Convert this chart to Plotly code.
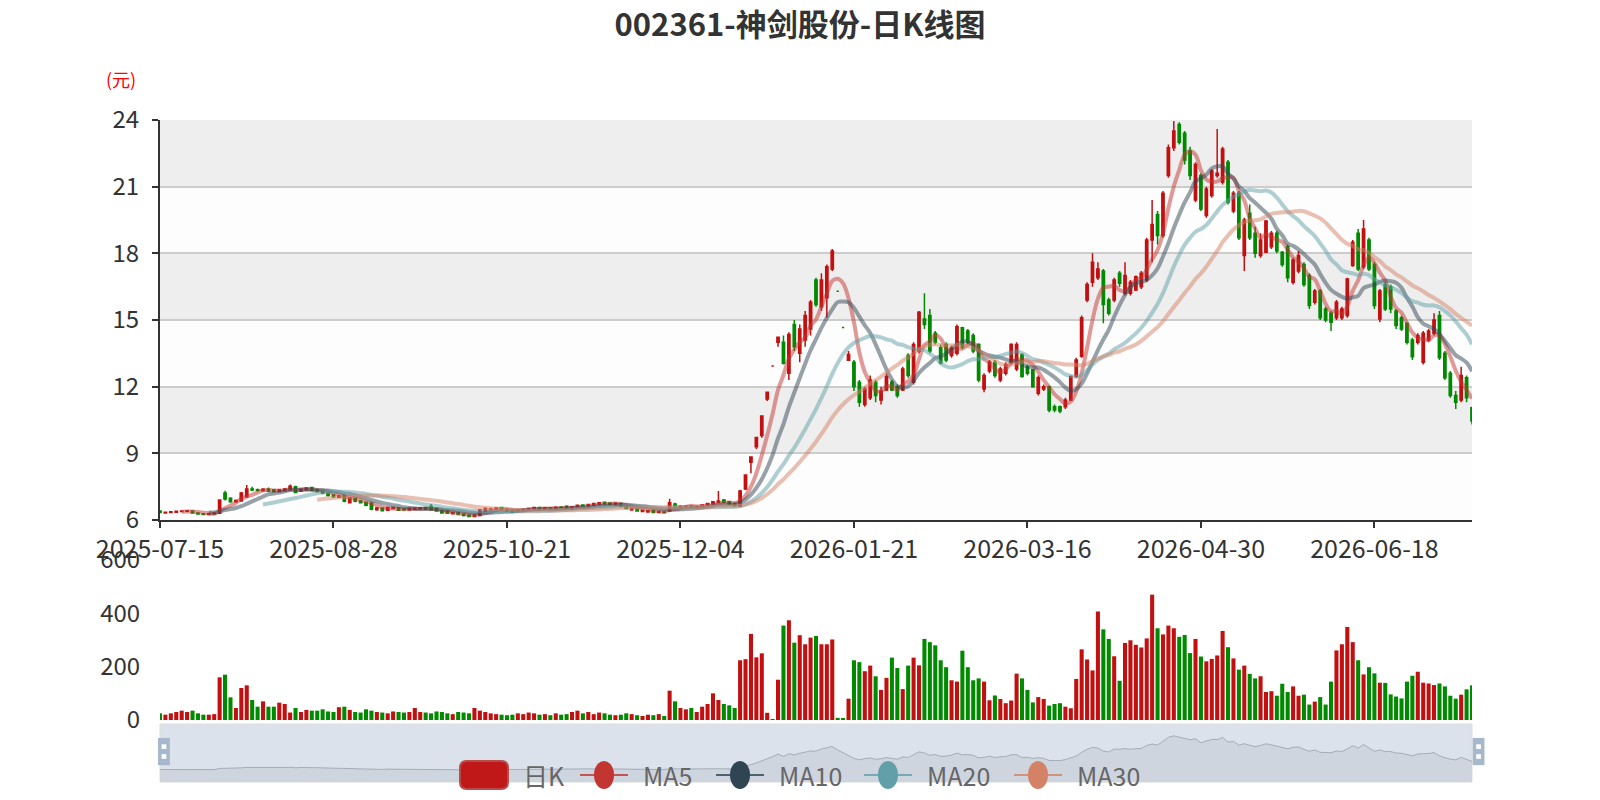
import pandas as pd
import plotly.graph_objects as go

# trading calendar (SZSE), starting 2025-07-15
holidays = ["2025-10-01", "2025-10-02", "2025-10-03", "2025-10-06", "2025-10-07", "2025-10-08",
            "2026-01-01", "2026-01-02", "2026-02-16", "2026-02-17", "2026-02-18", "2026-02-19",
            "2026-02-20", "2026-02-23", "2026-04-06", "2026-05-01", "2026-05-04", "2026-05-05",
            "2026-06-19"]
days = pd.bdate_range("2025-07-15", "2026-07-31")
days = [d.strftime("%Y-%m-%d") for d in days if d.strftime("%Y-%m-%d") not in holidays]

open_ = [
    6.40, 6.32, 6.34, 6.35, 6.38, 6.39, 6.41, 6.32, 6.28, 6.25, 6.27, 6.30, 7.22, 6.98, 6.82, 6.86,
    7.05, 7.40, 7.36, 7.32, 7.38, 7.36, 7.28, 7.32, 7.36, 7.50, 7.30, 7.36, 7.46, 7.36, 7.30, 7.20,
    7.12, 7.02, 7.10, 6.78, 6.98, 6.86, 6.80, 6.76, 6.46, 6.54, 6.44, 6.52, 6.54, 6.50, 6.45, 6.47,
    6.49, 6.56, 6.62, 6.52, 6.42, 6.40, 6.28, 6.33, 6.27, 6.23, 6.16, 6.20, 6.38, 6.46,
    6.48, 6.56, 6.48, 6.44, 6.38, 6.42, 6.46, 6.49, 6.56, 6.48, 6.55, 6.50, 6.58, 6.62, 6.50, 6.58,
    6.68, 6.62, 6.66, 6.70, 6.80, 6.76, 6.68, 6.74, 6.62, 6.45, 6.50, 6.38, 6.36, 6.42, 6.34, 6.36,
    6.40, 6.72, 6.56, 6.60, 6.64, 6.56, 6.60, 6.66, 6.72, 6.80, 6.90, 6.82, 6.72,
    6.62, 7.40, 8.60, 9.30, 9.80, 11.45, 12.93, 14.00, 14.00, 12.60, 14.80, 13.50, 14.10, 14.60,
    16.80, 15.60, 16.00, 17.30, 16.29, 14.66, 13.19,
    13.10, 12.20, 11.20, 11.50, 12.20, 11.40, 11.85, 12.20, 12.00, 11.85, 13.40, 12.20, 13.60, 15.05,
    15.20, 14.40, 13.75, 13.90, 13.40, 13.50, 14.65, 14.50, 14.30, 13.90, 11.90, 12.70, 13.10, 12.30,
    12.60, 13.10, 12.80, 13.45, 12.90, 12.76, 11.70, 11.90, 12.00, 11.10, 11.10, 11.10, 11.40, 12.46,
    13.37, 15.90,
    16.70, 16.90, 17.20, 15.90, 15.90, 17.10, 16.20, 16.20, 16.35, 16.50, 16.80, 18.60, 19.75, 18.80,
    21.50, 22.75, 23.80, 23.40, 22.60, 20.40, 21.50, 19.70, 20.60, 21.50, 21.20, 22.10, 19.90, 20.70,
    17.90, 19.80, 18.90, 17.90,
    18.05, 18.30, 18.90, 18.05, 18.30, 16.70, 17.20, 17.50, 17.00, 15.80, 16.30, 15.50, 15.30, 15.10,
    15.10, 15.20, 17.45, 18.90, 17.40, 18.60, 17.50, 15.05, 16.60, 16.50, 15.40, 15.10, 14.85, 14.10,
    14.00, 13.10, 14.10, 14.40, 15.20, 13.50, 12.60, 11.60, 11.40, 12.40, 11.05,
]
close_ = [
    6.34, 6.35, 6.37, 6.39, 6.41, 6.42, 6.31, 6.27, 6.25, 6.28, 6.31, 6.90, 6.95, 6.82, 6.88, 7.22,
    7.40, 7.35, 7.33, 7.38, 7.30, 7.28, 7.36, 7.40, 7.52, 7.24, 7.38, 7.44, 7.34, 7.28, 7.20, 7.10,
    7.04, 7.08, 6.84, 7.00, 6.84, 6.78, 6.66, 6.48, 6.54, 6.42, 6.56, 6.56, 6.44, 6.46, 6.52, 6.53,
    6.55, 6.48, 6.46, 6.40, 6.31, 6.30, 6.33, 6.25, 6.20, 6.16, 6.22, 6.45, 6.52, 6.50,
    6.54, 6.46, 6.42, 6.36, 6.44, 6.48, 6.52, 6.56, 6.48, 6.55, 6.50, 6.57, 6.55, 6.52, 6.60, 6.66,
    6.62, 6.70, 6.74, 6.78, 6.72, 6.70, 6.76, 6.62, 6.52, 6.52, 6.40, 6.44, 6.42, 6.34, 6.38, 6.33,
    6.78, 6.58, 6.62, 6.64, 6.56, 6.62, 6.68, 6.74, 6.82, 6.86, 6.80, 6.70, 6.64,
    7.30, 8.03, 8.83, 9.71, 10.68, 11.75, 12.93, 14.22, 13.05, 14.35, 13.80, 14.60, 15.20, 15.80,
    15.70, 16.80, 17.40, 18.10, 16.29, 14.66, 13.45,
    12.00, 11.30, 11.90, 12.30, 11.60, 11.80, 12.46, 11.85, 11.60, 12.80, 12.50, 13.90, 15.35, 14.80,
    13.60, 14.00, 13.07, 13.20, 13.75, 14.70, 13.80, 14.00, 13.60, 12.30, 12.50, 13.10, 12.50, 12.80,
    13.00, 13.90, 13.90, 12.46, 12.60, 12.00, 12.40, 12.00, 10.95, 10.95, 10.90, 11.40, 12.46, 13.20,
    15.10, 16.60,
    17.60, 17.30, 15.70, 15.30, 16.80, 16.65, 17.00, 16.70, 16.95, 17.10, 18.60, 19.30, 18.80, 20.70,
    22.75, 23.50, 23.00, 22.20, 21.50, 22.00, 20.00, 20.90, 21.70, 21.60, 22.70, 20.30, 20.70, 18.70,
    19.50, 18.70, 18.00, 18.60,
    19.46, 18.90, 18.10, 17.50, 16.90, 17.70, 17.90, 16.60, 15.65, 16.30, 15.10, 15.00, 14.90, 15.80,
    15.50, 16.85, 18.50, 17.30, 19.10, 17.30, 15.65, 16.30, 15.50, 15.50, 14.75, 14.60, 14.00, 13.35,
    14.30, 14.40, 14.50, 15.00, 13.30, 12.40, 11.60, 11.30, 12.50, 11.50, 10.45,
]
high_ = [
    6.42, 6.36, 6.38, 6.41, 6.43, 6.44, 6.42, 6.33, 6.30, 6.29, 6.33, 6.93, 7.32, 7.02, 6.92, 7.26,
    7.58, 7.50, 7.42, 7.43, 7.46, 7.40, 7.40, 7.44, 7.60, 7.54, 7.42, 7.48, 7.50, 7.40, 7.32, 7.24,
    7.16, 7.12, 7.12, 7.04, 7.00, 6.90, 6.82, 6.78, 6.58, 6.56, 6.60, 6.60, 6.56, 6.52, 6.56, 6.56,
    6.58, 6.58, 6.72, 6.54, 6.44, 6.42, 6.36, 6.35, 6.30, 6.26, 6.25, 6.50, 6.56, 6.55,
    6.57, 6.60, 6.50, 6.46, 6.47, 6.50, 6.54, 6.58, 6.58, 6.57, 6.57, 6.60, 6.62, 6.66, 6.63, 6.68,
    6.70, 6.72, 6.76, 6.80, 6.82, 6.78, 6.80, 6.76, 6.64, 6.55, 6.52, 6.46, 6.44, 6.44, 6.40, 6.38,
    6.96, 6.78, 6.66, 6.66, 6.66, 6.64, 6.70, 6.78, 6.86, 7.30, 6.94, 6.86, 6.78,
    7.36, 8.03, 8.83, 9.71, 10.68, 11.75, 12.93, 14.22, 14.30, 14.45, 15.00, 14.80, 15.40, 15.90,
    16.90, 17.10, 17.50, 18.20, 16.29, 14.66, 13.60,
    13.20, 12.30, 12.00, 12.50, 12.30, 12.00, 12.60, 12.30, 12.10, 12.90, 13.50, 14.00, 15.40, 16.20,
    15.50, 14.50, 13.90, 14.00, 13.85, 14.80, 14.70, 14.60, 14.40, 13.95, 12.60, 13.20, 13.20, 12.90,
    13.10, 13.95, 14.00, 13.50, 13.00, 12.80, 12.50, 12.10, 12.05, 11.20, 11.15, 11.50, 12.50, 13.30,
    15.20, 16.70,
    18.00, 17.60, 17.30, 16.00, 16.90, 17.20, 17.60, 16.80, 17.00, 17.20, 18.70, 20.40, 19.90, 20.80,
    22.90, 23.95, 23.90, 23.50, 22.80, 22.10, 21.60, 21.00, 21.80, 23.60, 22.80, 22.20, 20.80, 20.80,
    19.60, 20.20, 19.20, 18.90,
    19.50, 19.00, 19.00, 18.10, 18.40, 17.80, 18.10, 17.60, 17.10, 16.40, 16.40, 15.60, 15.40, 15.90,
    15.60, 16.90, 18.60, 19.10, 19.50, 18.70, 17.60, 16.40, 16.70, 16.60, 15.50, 15.20, 14.90, 14.20,
    14.40, 14.50, 14.60, 15.30, 15.40, 13.60, 12.70, 11.80, 12.90, 12.50, 11.10,
]
low_ = [
    6.32, 6.30, 6.32, 6.34, 6.37, 6.37, 6.29, 6.25, 6.23, 6.23, 6.25, 6.28, 6.88, 6.78, 6.78, 6.84,
    7.00, 7.30, 7.28, 7.28, 7.25, 7.24, 7.25, 7.30, 7.34, 7.20, 7.26, 7.32, 7.30, 7.24, 7.16, 7.06,
    7.00, 7.00, 6.80, 6.74, 6.80, 6.74, 6.62, 6.44, 6.42, 6.38, 6.42, 6.48, 6.42, 6.42, 6.43, 6.45,
    6.46, 6.45, 6.44, 6.38, 6.28, 6.28, 6.26, 6.22, 6.16, 6.12, 6.12, 6.18, 6.36, 6.44,
    6.45, 6.44, 6.40, 6.34, 6.36, 6.40, 6.44, 6.47, 6.46, 6.46, 6.48, 6.48, 6.53, 6.50, 6.48, 6.56,
    6.60, 6.60, 6.64, 6.68, 6.70, 6.68, 6.66, 6.60, 6.50, 6.43, 6.38, 6.36, 6.33, 6.31, 6.32, 6.30,
    6.38, 6.55, 6.54, 6.58, 6.54, 6.54, 6.58, 6.64, 6.70, 6.76, 6.76, 6.66, 6.60,
    6.58, 7.35, 8.10, 9.20, 9.70, 11.35, 12.93, 13.80, 13.00, 12.30, 13.60, 13.10, 13.80, 14.30,
    15.60, 15.40, 15.10, 17.20, 16.29, 14.66, 13.19,
    11.80, 11.10, 11.10, 11.40, 11.30, 11.20, 11.80, 11.80, 11.50, 11.80, 12.40, 12.10, 13.50, 14.60,
    13.50, 13.90, 13.00, 13.10, 13.30, 13.40, 13.70, 13.90, 13.50, 12.20, 11.75, 12.60, 12.40, 12.20,
    12.50, 13.00, 12.70, 12.40, 12.50, 11.95, 11.60, 11.80, 10.85, 10.85, 10.80, 11.00, 11.35, 12.40,
    13.30, 15.80,
    16.50, 16.80, 14.85, 15.20, 15.80, 16.50, 16.10, 16.10, 16.30, 16.40, 16.70, 17.60, 18.40, 18.70,
    21.40, 22.60, 22.90, 22.00, 21.30, 20.30, 19.90, 19.60, 20.50, 21.40, 21.10, 20.20, 19.80, 18.60,
    17.20, 18.60, 17.80, 17.80,
    18.00, 18.20, 18.00, 17.40, 16.70, 16.60, 17.10, 16.50, 15.50, 15.70, 15.00, 14.90, 14.50, 15.00,
    15.00, 15.10, 17.40, 17.20, 17.30, 17.20, 15.50, 14.90, 15.40, 15.30, 14.60, 14.50, 13.90, 13.20,
    13.90, 13.00, 14.00, 14.30, 13.20, 12.30, 11.50, 11.00, 11.30, 11.30, 10.30,
]
volume = [
    25, 20, 25, 30, 35, 30, 35, 25, 20, 20, 22, 160, 170, 85, 45, 120,
    130, 75, 50, 70, 50, 50, 65, 60, 28, 45, 30, 38, 35, 35, 40, 32,
    30, 48, 50, 38, 30, 28, 40, 35, 30, 28, 25, 32, 30, 28, 30, 45,
    30, 28, 25, 32, 30, 25, 22, 30, 28, 25, 45, 35, 30, 25,
    22, 20, 18, 20, 25, 22, 28, 25, 20, 22, 18, 25, 20, 22, 30, 35,
    25, 30, 22, 28, 25, 20, 18, 20, 25, 22, 18, 15, 20, 18, 22, 15,
    110, 70, 45, 40, 45, 30, 50, 60, 100, 75, 60, 55, 45,
    224, 228, 323, 235, 250, 27, 3, 151, 354, 374, 290, 318, 284, 309,
    315, 284, 284, 302, 8, 5, 80,
    224, 217, 183, 204, 164, 113, 158, 234, 195, 116, 204, 234, 205, 304,
    292, 280, 224, 198, 149, 144, 260, 198, 149, 156, 144, 74, 92, 79,
    63, 73, 174, 156, 113, 66, 86, 79, 54, 60, 63, 50, 44, 154,
    265, 227,
    186, 407, 340, 304, 239, 147, 289, 299, 282, 272, 306, 470, 344, 321,
    354, 344, 312, 319, 251, 304, 238, 220, 229, 242, 334, 273, 231, 189,
    204, 173, 156, 164,
    105, 108, 91, 136, 105, 126, 91, 95, 58, 69, 86, 58, 144, 261,
    284, 349, 292, 224, 171, 198, 175, 140, 139, 96, 88, 81, 144, 166,
    181, 140, 137, 131, 137, 126, 91, 80, 95, 115, 130,
]

dates = days[:len(close_)]
label_dates = dates[::32]

RED = "#c21010"
GREEN = "#008a00"
ma_names = ["MA5", "MA10", "MA20", "MA30"]
ma_days = [5, 10, 20, 30]
ma_colors = ["#c23531", "#2f4554", "#61a0a8", "#d48265"]
ma_fade = ["rgba(194,53,49,0.5)", "rgba(47,69,84,0.5)", "rgba(97,160,168,0.5)", "rgba(212,130,101,0.5)"]
price_ticks = [6, 9, 12, 15, 18, 21, 24]
vol_ticks = [0, 200, 400, 600]

up = []
for i in range(len(close_)):
    if close_[i] > open_[i]:
        up.append(True)
    elif close_[i] < open_[i]:
        up.append(False)
    else:
        up.append(i > 0 and close_[i] >= close_[i - 1])
vol_colors = [RED if u else GREEN for u in up]

fig = go.Figure()

fig.add_trace(go.Candlestick(
    x=dates, open=open_, high=high_, low=low_, close=close_,
    increasing=dict(line=dict(color=RED, width=1.5), fillcolor=RED),
    decreasing=dict(line=dict(color=GREEN, width=1.5), fillcolor=GREEN),
    whiskerwidth=0, showlegend=False, name="日K", xaxis="x", yaxis="y",
))

s = pd.Series(close_)
for name, n, c in zip(ma_names, ma_days, ma_fade):
    fig.add_trace(go.Scatter(
        x=dates, y=s.rolling(n).mean().round(3), mode="lines", name=name,
        line=dict(color=c, width=4, shape="spline", smoothing=1),
        showlegend=False, xaxis="x", yaxis="y",
    ))

fig.add_trace(go.Bar(
    x=dates, y=volume, marker=dict(color=vol_colors, line=dict(width=0)),
    showlegend=False, xaxis="x2", yaxis="y2",
))

# data shadow inside the zoom slider
fig.add_trace(go.Scatter(
    x=dates, y=close_, mode="lines", fill="tozeroy",
    line=dict(color="rgba(47,69,84,0.3)", width=1),
    fillcolor="rgba(47,69,84,0.08)", showlegend=False, hoverinfo="skip",
    xaxis="x3", yaxis="y3",
))

# page geometry (css px) -> paper coords
L, R, W, H = 152, 1464, 1600, 800


def px(x):
    return (x - L) / (R - L)


def py(y):
    return 1 - y / H


shapes = []
for k in range(len(price_ticks) - 1):
    shapes.append(dict(
        type="rect", xref="x domain", yref="y", x0=0, x1=1,
        y0=price_ticks[k], y1=price_ticks[k + 1], layer="below", line=dict(width=0),
        fillcolor="rgba(250,250,250,0.3)" if k % 2 == 0 else "rgba(200,200,200,0.3)",
    ))

# zoom slider frame and handles
shapes.append(dict(type="rect", xref="x3 domain", yref="y3 domain", x0=0, x1=1, y0=0, y1=1,
                   fillcolor="rgba(167,183,204,0.4)", line=dict(color="#ddd", width=1), layer="below"))
for hx in [0.003, 1.005]:
    shapes.append(dict(type="rect", xref="x3 domain", yref="y3 domain", x0=hx - 0.0045, x1=hx + 0.0045,
                       y0=0.29, y1=0.76, fillcolor="#a7b7cc", line=dict(width=0)))
    for hy in [0.44, 0.61]:
        shapes.append(dict(type="rect", xref="x3 domain", yref="y3 domain", x0=hx - 0.0018,
                           x1=hx + 0.0018, y0=hy - 0.04, y1=hy + 0.04,
                           fillcolor="#ffffff", line=dict(width=0)))


def round_rect(x0, y0, x1, y1, r):
    # rounded rectangle path, css px in, paper coords out
    pts = [
        ("M", x0 + r, y0), ("L", x1 - r, y0), ("Q", x1, y0, x1, y0 + r), ("L", x1, y1 - r),
        ("Q", x1, y1, x1 - r, y1), ("L", x0 + r, y1), ("Q", x0, y1, x0, y1 - r),
        ("L", x0, y0 + r), ("Q", x0, y0, x0 + r, y0),
    ]
    out = []
    for p in pts:
        cmd, nums = p[0], p[1:]
        xy = []
        for j in range(0, len(nums), 2):
            xy.append("%.5f,%.5f" % (px(nums[j]), py(nums[j + 1])))
        out.append(cmd + " ".join(xy))
    return " ".join(out) + " Z"


# legend, drawn by hand to get the big echarts style icons
legend_names = ["日K"] + ma_names
legend_left = [452, 572, 708, 856, 1006]
legend_y = 767
icon_w = 48
annotations = []
for k, (name, x0) in enumerate(zip(legend_names, legend_left)):
    if k == 0:
        shapes.append(dict(type="path", xref="paper", yref="paper",
                           path=round_rect(x0, legend_y - 14, x0 + icon_w, legend_y + 14, 7),
                           fillcolor="#c01818", line=dict(color="#b84a4a", width=2)))
    else:
        c = ma_colors[k - 1]
        shapes.append(dict(type="line", xref="paper", yref="paper", x0=px(x0), x1=px(x0 + icon_w),
                           y0=py(legend_y), y1=py(legend_y), line=dict(color=c, width=2), opacity=0.8))
        cx = x0 + icon_w / 2
        shapes.append(dict(type="circle", xref="paper", yref="paper", x0=px(cx - 10), x1=px(cx + 10),
                           y0=py(legend_y + 14), y1=py(legend_y - 14), fillcolor=c, line=dict(width=0)))
    annotations.append(dict(text=name, xref="paper", yref="paper", x=px(x0 + 61), y=py(legend_y),
                            xanchor="left", yanchor="middle", showarrow=False,
                            font=dict(size=25, color="#666")))

annotations.append(dict(text="(元)", xref="paper", yref="paper", x=px(113), y=py(71),
                        showarrow=False, font=dict(size=18, color="red"), xanchor="center",
                        yanchor="middle"))

font_family = "Noto Sans CJK SC, Noto Sans, sans-serif"
fig.update_layout(
    width=W, height=H,
    margin=dict(l=L, r=W - R, t=0, b=0, autoexpand=False),
    paper_bgcolor="white", plot_bgcolor="rgba(0,0,0,0)",
    font=dict(family=font_family, color="#333", size=24),
    title=dict(text="<b>002361-神剑股份-日K线图</b>", x=792 / W, xanchor="center",
               y=1 - 17 / H, yanchor="middle", font=dict(size=31, color="#333")),
    boxgap=0.4, bargap=0.25,
    showlegend=False,
    xaxis=dict(type="category", domain=[0, 1], anchor="y", range=[0, len(dates) - 1],
               tickvals=label_dates, ticktext=label_dates, ticks="outside", ticklen=6, tickwidth=2,
               tickcolor="#333", showline=True, linecolor="#333", linewidth=2, showgrid=False,
               tickfont=dict(size=25, color="#333"), rangeslider=dict(visible=False)),
    yaxis=dict(domain=[py(512), py(112)], anchor="x", range=[6, 24],
               tickvals=price_ticks, showgrid=True, gridcolor="#ccc", gridwidth=2,
               showline=True, linecolor="#333", linewidth=2, ticks="outside", ticklen=6,
               tickwidth=2, tickcolor="#333", ticklabelstandoff=8, zeroline=False,
               tickfont=dict(size=24, color="#333")),
    xaxis2=dict(type="category", domain=[0, 1], anchor="y2", range=[0, len(dates) - 1],
                showticklabels=False, showline=False, ticks="", showgrid=False),
    yaxis2=dict(domain=[py(712), py(552)], anchor="x2", range=[0, 600],
                tickvals=vol_ticks, showgrid=False, showline=False, ticks="outside", ticklen=6,
                tickcolor="rgba(0,0,0,0)", ticklabelstandoff=8, zeroline=False,
                tickfont=dict(size=24, color="#333")),
    xaxis3=dict(type="category", domain=[0, 1], anchor="y3", range=[0, len(dates) - 1],
                visible=False),
    yaxis3=dict(domain=[py(774), py(716)], anchor="x3", range=[0, 29.5], visible=False),
    shapes=shapes,
    annotations=annotations,
)

fig.write_html("out.html")
